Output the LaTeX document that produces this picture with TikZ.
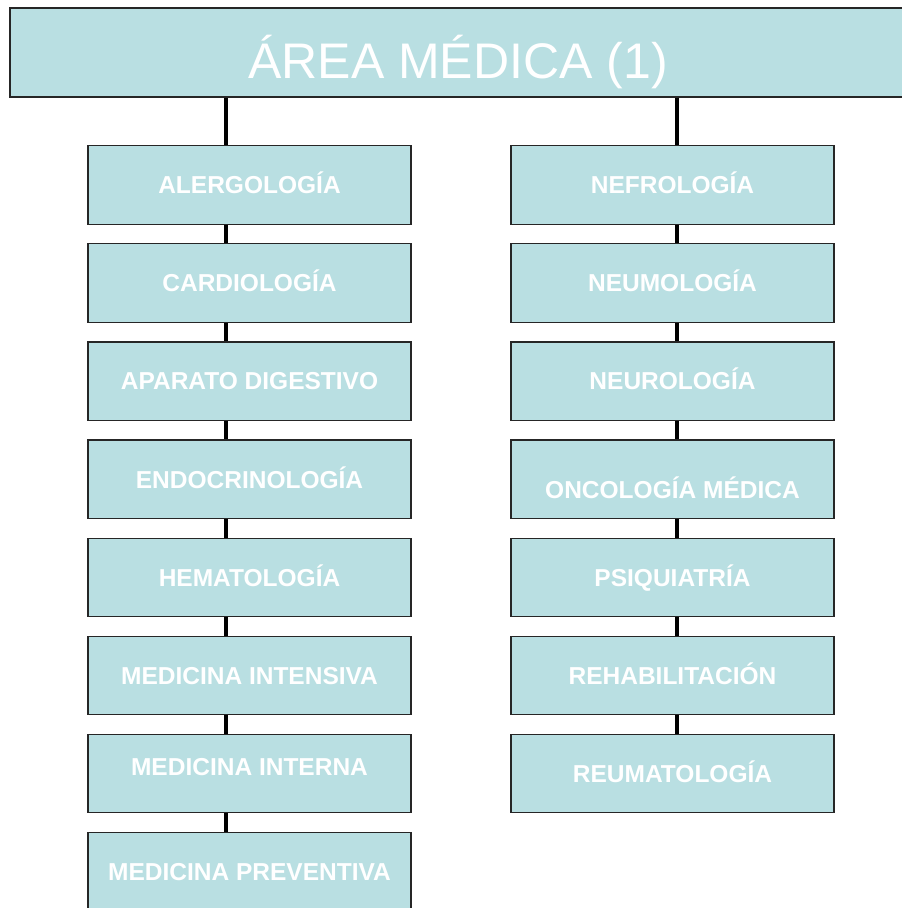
\documentclass[tikz,border=0pt]{standalone}
\usepackage{fontspec}
\setmainfont{Liberation Sans}
\usetikzlibrary{positioning}
\definecolor{boxblue}{RGB}{185,223,226}

\begin{document}
\begin{tikzpicture}[x=1pt, y=-1pt, node distance=18.4pt]
    % Define the styles
    \tikzset{
        area/.style = {draw=black!85, fill=boxblue, line width=1.2pt, rectangle, minimum width=896pt, minimum height=89pt, inner sep=0pt, text=white, font=\fontsize{50}{50}\selectfont, text height=52pt, text depth=0pt},
        spec/.style = {draw=black!85, fill=boxblue, line width=1.2pt, rectangle, minimum width=323pt, minimum height=78.5pt, inner sep=0pt, text=white, font=\bfseries\fontsize{24.5}{24.5}\selectfont, text height=17.5pt, text depth=0pt},
        link/.style = {draw, line width=4pt},
    }
    \useasboundingbox (0,0) rectangle (902,908);

    % Nodes placement
    \node [area] (area) at (458,52.5) {ÁREA MÉDICA (1)};
    \coordinate (lcol) at (226,0);
    \coordinate (rcol) at (677,0);

    % Left column
    \node [spec] (aler) at (249.5,185) {ALERGOLOGÍA};
    \node [spec, below=of aler] (card) {CARDIOLOGÍA};
    \node [spec, below=of card] (dige) {APARATO DIGESTIVO};
    \node [spec, below=of dige] (endo) {ENDOCRINOLOGÍA};
    \node [spec, below=of endo] (hema) {HEMATOLOGÍA};
    \node [spec, below=of hema] (mint) {MEDICINA INTENSIVA};
    \node [spec, below=of mint, text depth=14pt] (mitn) {MEDICINA INTERNA};
    \node [spec, below=of mitn] (mpre) {MEDICINA PREVENTIVA};

    % Right column
    \node [spec] (nefr) at (672.5,185) {NEFROLOGÍA};
    \node [spec, below=of nefr] (neum) {NEUMOLOGÍA};
    \node [spec, below=of neum] (neur) {NEUROLOGÍA};
    \node [spec, below=of neur, text height=39pt] (onco) {ONCOLOGÍA MÉDICA};
    \node [spec, below=of onco] (psiq) {PSIQUIATRÍA};
    \node [spec, below=of psiq] (reha) {REHABILITACIÓN};
    \node [spec, below=of reha] (reum) {REUMATOLOGÍA};

    % Connecting lines
    \draw [link] (area.south -| lcol) -- (aler.north -| lcol);
    \draw [link] (aler.south -| lcol) -- (card.north -| lcol);
    \draw [link] (card.south -| lcol) -- (dige.north -| lcol);
    \draw [link] (dige.south -| lcol) -- (endo.north -| lcol);
    \draw [link] (endo.south -| lcol) -- (hema.north -| lcol);
    \draw [link] (hema.south -| lcol) -- (mint.north -| lcol);
    \draw [link] (mint.south -| lcol) -- (mitn.north -| lcol);
    \draw [link] (mitn.south -| lcol) -- (mpre.north -| lcol);

    \draw [link] (area.south -| rcol) -- (nefr.north -| rcol);
    \draw [link] (nefr.south -| rcol) -- (neum.north -| rcol);
    \draw [link] (neum.south -| rcol) -- (neur.north -| rcol);
    \draw [link] (neur.south -| rcol) -- (onco.north -| rcol);
    \draw [link] (onco.south -| rcol) -- (psiq.north -| rcol);
    \draw [link] (psiq.south -| rcol) -- (reha.north -| rcol);
    \draw [link] (reha.south -| rcol) -- (reum.north -| rcol);

\end{tikzpicture}
\end{document}
